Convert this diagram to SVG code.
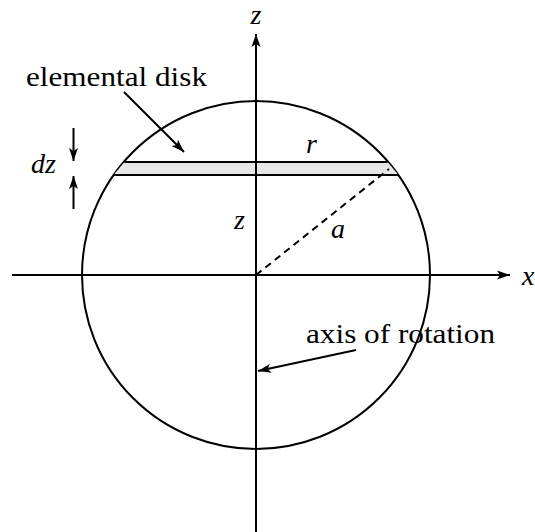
<svg xmlns="http://www.w3.org/2000/svg" width="535" height="532" viewBox="0 0 535 532">
<style>
.ln{stroke:#000;stroke-width:2;fill:none}
text{fill:#000}
</style>
<defs>
<marker id="ah" markerWidth="14" markerHeight="10" refX="13" refY="5" orient="auto" markerUnits="userSpaceOnUse">
<path d="M0,0.5 L13,5 L0,9.5 L3,5 Z" fill="#000"/>
</marker>
</defs>
<g id="sphere">
<circle class="ln" cx="256" cy="275" r="174"/>
</g>
<g id="disk">
<path d="M124.5,162 L387.5,162 L398.5,175 L113.5,175 Z" fill="#e6e6e6" stroke="none"/>
<line class="ln" x1="124.5" y1="162" x2="387.5" y2="162"/>
<line class="ln" x1="113.5" y1="175" x2="398.5" y2="175"/>
</g>
<g id="connectors">
<line class="ln" x1="256" y1="532" x2="256" y2="34" marker-end="url(#ah)"/>
<line class="ln" x1="12" y1="275" x2="510" y2="275" marker-end="url(#ah)"/>
<line class="ln" x1="256" y1="275" x2="389" y2="169" stroke-dasharray="7,5"/>
<line class="ln" x1="124" y1="92" x2="184" y2="152" marker-end="url(#ah)"/>
<line class="ln" x1="356" y1="350" x2="258" y2="371" marker-end="url(#ah)"/>
<line class="ln" x1="73.5" y1="128" x2="73.5" y2="161" marker-end="url(#ah)"/>
<line class="ln" x1="73.5" y1="209" x2="73.5" y2="176" marker-end="url(#ah)"/>
</g>
<g id="labels" font-family="Liberation Serif, Times New Roman, serif" font-size="28">
<text x="256" y="24" text-anchor="middle" font-style="italic">z</text>
<text x="26" y="86" textLength="181" lengthAdjust="spacingAndGlyphs">elemental disk</text>
<text x="31" y="173" font-style="italic">dz</text>
<text x="306" y="153" font-style="italic">r</text>
<text x="234" y="229" font-style="italic">z</text>
<text x="331" y="238" font-style="italic">a</text>
<text x="522" y="285" font-style="italic">x</text>
<text x="306" y="343" textLength="189" lengthAdjust="spacingAndGlyphs">axis of rotation</text>
</g>
</svg>
